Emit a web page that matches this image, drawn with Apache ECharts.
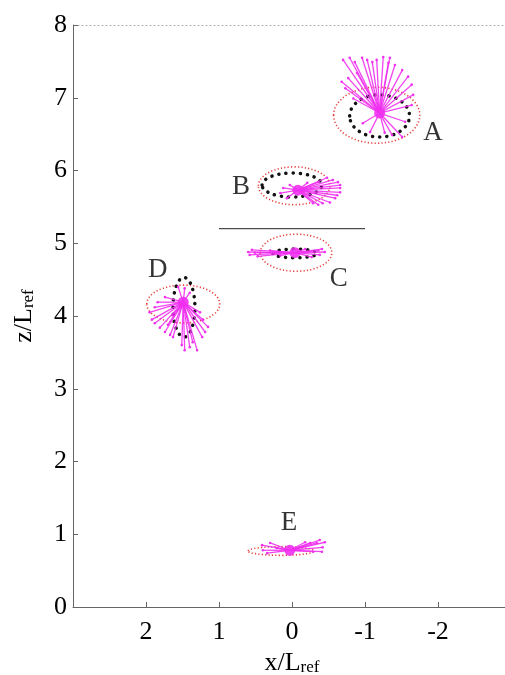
<!DOCTYPE html>
<html>
<head>
<meta charset="utf-8">
<script src="https://cdn.jsdelivr.net/npm/echarts@6/dist/echarts.min.js"></script>
<style>
  html, body { margin: 0; padding: 0; background: #fff; }
  #chart { width: 505px; height: 675px; }
</style>
</head>
<body>
<div id="chart"></div>
<script>
// cluster labels and where they are written
const clusterNames = ['A', 'B', 'C', 'D', 'E'];
const labelX = [-1.93, 0.70, -0.64, 1.84, 0.04];
const labelZ = [6.52, 5.77, 4.51, 4.63, 1.15];

// centre of each pink fan
const centerX = [-1.2, -0.08, -0.04, 1.49, 0.03];
const centerZ = [6.79, 5.73, 4.87, 4.19, 0.78];

// red dotted ellipses (centre + semi axes)
const redCx = [-1.16, -0.03, -0.055, 1.49, 0.15];
const redCz = [6.76, 5.79, 4.87, 4.165, 0.77];
const redRx = [0.59, 0.49, 0.49, 0.50, 0.45];
const redRz = [0.385, 0.26, 0.255, 0.26, 0.06];

// black dotted ellipses (E has none)
const blackCx = [-1.2, 0.0, -0.04, 1.48];
const blackCz = [6.75, 5.80, 4.86, 4.12];
const blackRx = [0.41, 0.41, 0.30, 0.15];
const blackRz = [0.29, 0.165, 0.06, 0.41];

// end points of the pink rays, per cluster
const raysA = [[-0.70,7.52],[-0.79,7.55],[-0.86,7.49],[-0.96,7.55],[-1.03,7.52],[-1.10,7.49],[-1.16,7.52],
  [-1.25,7.56],[-1.32,7.48],[-1.34,7.55],[-1.41,7.45],[-1.51,7.38],[-1.59,7.29],[-1.64,7.18],[-1.66,7.04],
  [-1.64,6.90],[-1.55,6.67],[-1.51,6.46],[-1.37,6.49],[-1.27,6.52],[-0.73,7.13],[-0.68,7.22],[-0.77,7.27],
  [-0.89,7.34],[-0.84,6.99],[-0.97,6.65],[-1.07,6.53]];
const raysB = [[-0.66,5.80],[-0.66,5.76],[-0.66,5.70],[-0.63,5.84],[-0.62,5.66],[-0.59,5.62],[-0.52,5.56],
  [-0.42,5.55],[-0.36,5.53],[-0.29,5.55],[-0.56,5.87],[-0.48,5.90],[-0.36,5.84],[0.16,5.69],[0.12,5.76],
  [0.07,5.62],[0.03,5.80],[-0.21,5.83]];
const raysC = [[0.60,4.88],[0.58,4.84],[0.55,4.91],[0.51,4.87],[0.47,4.82],[-0.45,4.88],[-0.41,4.92],
  [-0.38,4.84],[-0.36,4.90],[-0.27,4.81],[-0.18,4.92],[0.30,4.90],[0.16,4.83]];
const raysD = [[1.95,4.05],[1.92,3.95],[1.88,3.90],[1.81,3.84],[1.74,3.78],[1.70,3.88],[1.67,3.74],[1.63,3.71],
  [1.51,3.60],[1.47,3.53],[1.40,3.57],[1.36,3.64],[1.30,3.53],[1.23,3.71],[1.19,3.78],[1.15,3.85],
  [1.22,3.95],[1.26,4.05],[1.88,4.12],[1.84,4.19],[1.74,4.26],[1.56,4.40],[1.47,4.38],[1.40,4.32],[1.64,4.01]];
const raysE = [[0.41,0.85],[0.40,0.78],[0.34,0.74],[0.30,0.88],[0.21,0.81],[-0.45,0.89],[-0.42,0.82],
  [-0.41,0.76],[-0.34,0.88],[-0.38,0.92],[-0.25,0.88],[-0.29,0.76],[-0.18,0.89]];
const allRays = [raysA, raysB, raysC, raysD, raysE];

// horizontal separator between B and C
const sepX = [1.0, -1.0];
const sepZ = [5.2, 5.2];

const serif = 'Liberation Serif';
const magenta = '#f030f0';

const chart = echarts.init(document.getElementById('chart'));

const rayData = [];
allRays.forEach((list, i) => {
  list.forEach(p => rayData.push([centerX[i], centerZ[i], p[0], p[1]]));
});

const redData = redCx.map((x, i) => [x, redCz[i], redRx[i], redRz[i]]);
const blackData = blackCx.map((x, i) => [x, blackCz[i], blackRx[i], blackRz[i]]);

// ellipse drawn through the axes
function ellipseItem(style) {
  return function (params, api) {
    const c = api.coord([api.value(0), api.value(1)]);
    const s = api.size([api.value(2), api.value(3)]);
    return {
      type: 'ellipse',
      shape: { cx: c[0], cy: c[1], rx: s[0], ry: s[1] },
      style: Object.assign({ fill: null }, style)
    };
  };
}

const nameRich = {
  a: { fontFamily: serif, fontSize: 26, color: '#000', verticalAlign: 'bottom' },
  b: { fontFamily: serif, fontSize: 17, color: '#000', verticalAlign: 'bottom', padding: [8, 0, 0, 0] }
};

const option = {
  backgroundColor: '#fff',
  animation: false,
  grid: { left: 73, width: 438, top: 25, bottom: 68, outerBoundsMode: 'none', containLabel: false },
  xAxis: [{
    type: 'value',
    min: -3, max: 3, interval: 1,
    inverse: true,
    name: '{a|x/L}{b|ref}',
    nameLocation: 'middle',
    nameGap: 34,
    nameTextStyle: { rich: nameRich },
    axisLine: { onZero: false, lineStyle: { color: '#666', width: 1 } },
    axisTick: { inside: true, length: 5, lineStyle: { color: '#666' } },
    axisLabel: {
      margin: 12,
      fontFamily: serif, fontSize: 26, color: '#000',
      formatter: v => (Math.abs(v) >= 3 ? '' : String(v))
    },
    splitLine: { show: false }
  }, {
    type: 'value',
    position: 'top',
    min: -3, max: 3, inverse: true,
    axisLine: { show: true, onZero: false, lineStyle: { color: '#aaa', type: [1, 3], width: 1 } },
    axisTick: { show: false },
    axisLabel: { show: false },
    splitLine: { show: false }
  }],
  yAxis: {
    type: 'value',
    min: 0, max: 8, interval: 1,
    name: '{a|z/L}{b|ref}',
    nameLocation: 'middle',
    nameGap: 36,
    nameRotate: 90,
    nameTextStyle: { rich: nameRich },
    axisLine: { show: true, onZero: false, lineStyle: { color: '#666', width: 1 } },
    axisTick: { inside: true, length: 5, lineStyle: { color: '#666' } },
    axisLabel: { margin: 6, fontFamily: serif, fontSize: 26, color: '#000' },
    splitLine: { show: false }
  },
  series: [
    {
      type: 'line',
      data: sepX.map((x, i) => [x, sepZ[i]]),
      symbol: 'none',
      lineStyle: { color: '#222', width: 1 },
      z: 2
    },
    {
      type: 'custom',
      data: redData,
      encode: { x: 0, y: 1 },
      renderItem: ellipseItem({ stroke: '#e8403a', lineWidth: 1.6, lineDash: [1.2, 2.2] }),
      z: 3
    },
    {
      type: 'custom',
      data: blackData,
      encode: { x: 0, y: 1 },
      renderItem: ellipseItem({ stroke: '#111', lineWidth: 3.5, lineDash: [0.1, 7], lineCap: 'round' }),
      z: 4
    },
    {
      type: 'custom',
      data: rayData,
      encode: { x: [0, 2], y: [1, 3] },
      renderItem: function (params, api) {
        const a = api.coord([api.value(0), api.value(1)]);
        const b = api.coord([api.value(2), api.value(3)]);
        return {
          type: 'group',
          children: [
            { type: 'line', shape: { x1: a[0], y1: a[1], x2: b[0], y2: b[1] },
              style: { stroke: magenta, lineWidth: 1.3, opacity: 0.9 } },
            { type: 'circle', shape: { cx: b[0], cy: b[1], r: 1.3 },
              style: { fill: magenta } }
          ]
        };
      },
      z: 5
    },
    {
      type: 'scatter',
      data: centerX.map((x, i) => [x, centerZ[i]]),
      symbolSize: 11,
      itemStyle: { color: magenta, opacity: 0.9 },
      z: 6
    },
    {
      type: 'scatter',
      data: clusterNames.map((n, i) => ({ value: [labelX[i], labelZ[i]], name: n })),
      symbolSize: 0,
      label: {
        show: true,
        position: 'inside',
        formatter: p => p.name,
        fontFamily: serif, fontSize: 27, color: '#000'
      },
      z: 7
    }
  ]
};

chart.setOption(option);
</script>
</body>
</html>
